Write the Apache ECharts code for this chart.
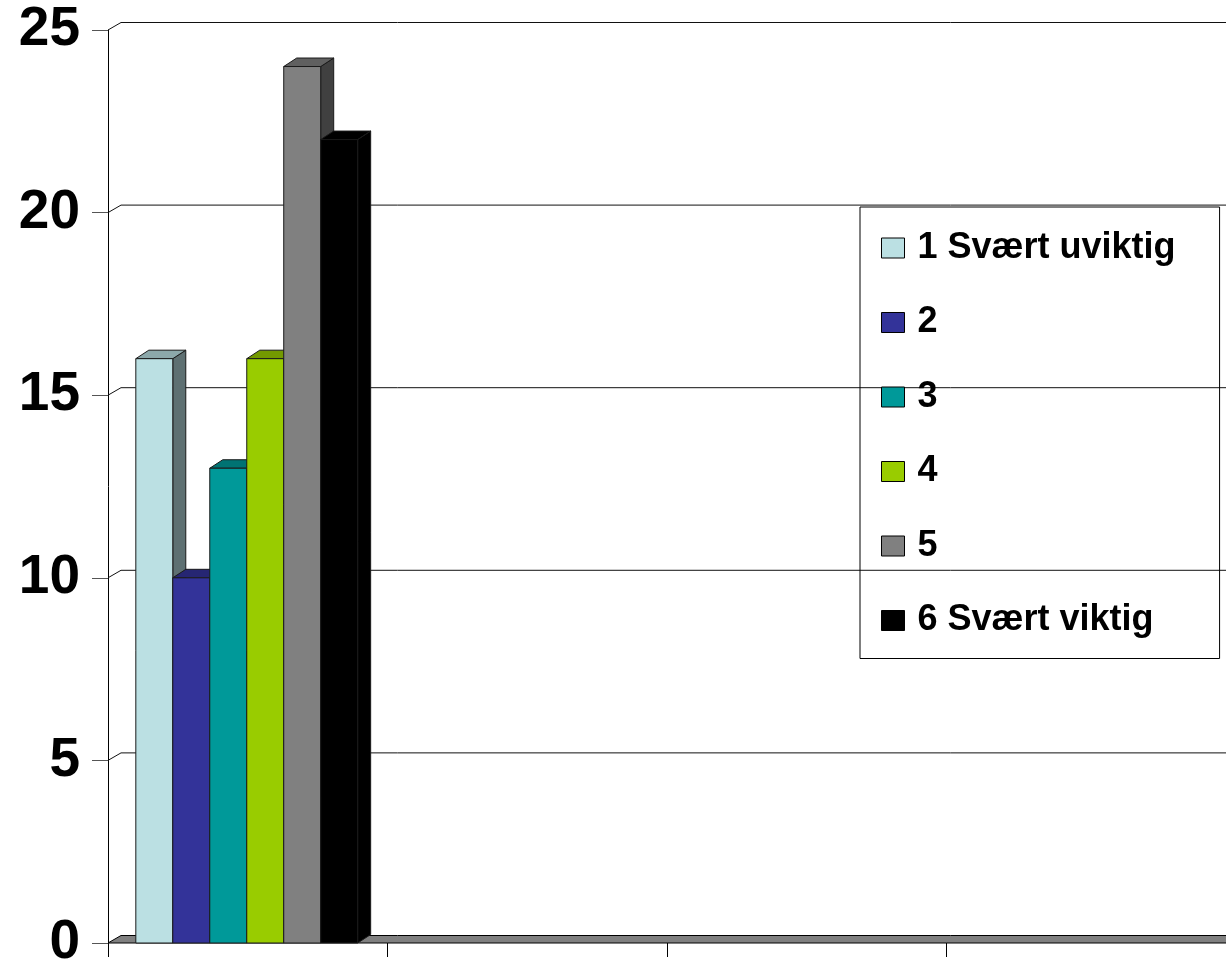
<!DOCTYPE html>
<html>
<head>
<meta charset="utf-8">
<script src="https://cdn.jsdelivr.net/npm/echarts@6/dist/echarts.min.js"></script>
<style>
html,body{margin:0;padding:0;background:#fff;}
#chart{width:1226px;height:963px;}
</style>
</head>
<body>
<div id="chart"></div>
<script>
const categories = ['1', '2', '3', '4'];
const seriesNames = ['1 Svært uviktig', '2', '3', '4', '5', '6 Svært viktig'];
const valuesS1 = [16, null, null, null];
const valuesS2 = [10, null, null, null];
const valuesS3 = [13, null, null, null];
const valuesS4 = [16, null, null, null];
const valuesS5 = [24, null, null, null];
const valuesS6 = [22, null, null, null];
const yTicks = [0, 5, 10, 15, 20, 25];

const allValues = [valuesS1, valuesS2, valuesS3, valuesS4, valuesS5, valuesS6];
const colors = ['#BBE0E3', '#333399', '#009999', '#99CC00', '#808080', '#000000'];
const FONT = "'Liberation Sans', Arial, sans-serif";
const WALL_DX = 13, WALL_DY = -7.5;
const BAR_DX = 13, BAR_DY = -8.5;

function shade(hex, f) {
  const n = parseInt(hex.slice(1), 16);
  const r = Math.round(((n >> 16) & 255) * f);
  const g = Math.round(((n >> 8) & 255) * f);
  const b = Math.round((n & 255) * f);
  return 'rgb(' + r + ',' + g + ',' + b + ')';
}

const chart = echarts.init(document.getElementById('chart'), null, {renderer: 'canvas'});

const wallSeries = {
  type: 'custom',
  name: 'wall',
  silent: true,
  data: yTicks.map(t => [0, t]),
  encode: {x: 0, y: 1},
  z: 1,
  renderItem: function (params, api) {
    const t = api.value(1);
    const p = api.coord([0, t]);
    const bw = api.size([1, 0])[0];
    const xl = p[0] - bw / 2;
    const xr = xl + bw * categories.length;
    const children = [];
    if (t === 0) {
      children.push({
        type: 'polygon',
        shape: {points: [[xl, p[1]], [xr, p[1]], [xr + WALL_DX, p[1] + WALL_DY], [xl + WALL_DX, p[1] + WALL_DY]]},
        style: {fill: '#808080', stroke: '#000', lineWidth: 1}
      });
    } else {
      children.push({
        type: 'polyline',
        shape: {points: [[xl, p[1]], [xl + WALL_DX, p[1] + WALL_DY], [xr + WALL_DX, p[1] + WALL_DY]]},
        style: {fill: null, stroke: '#111', lineWidth: 1}
      });
    }
    return {type: 'group', children: children};
  }
};

function barSeries(idx) {
  const vals = allValues[idx];
  const data = [];
  vals.forEach((v, ci) => { if (v !== null) data.push([ci, v]); });
  const col = colors[idx];
  return {
    type: 'custom',
    name: seriesNames[idx],
    data: data,
    encode: {x: 0, y: 1},
    z: 2,
    itemStyle: {color: col, borderColor: '#000', borderWidth: 1},
    renderItem: function (params, api) {
      const ci = api.value(0), v = api.value(1);
      const top = api.coord([ci, v]);
      const base = api.coord([ci, 0]);
      const bw = api.size([1, 0])[0];
      const w = bw * 0.1323;
      const x = top[0] - 3 * w - 1 + idx * w;
      const y = top[1], yb = base[1];
      const edge = '#1a1a1a';
      return {
        type: 'group',
        children: [
          {type: 'polygon', shape: {points: [[x + w, y], [x + w + BAR_DX, y + BAR_DY], [x + w + BAR_DX, yb + BAR_DY], [x + w, yb]]},
           style: {fill: shade(col, 0.5), stroke: edge, lineWidth: 1}},
          {type: 'polygon', shape: {points: [[x, y], [x + BAR_DX, y + BAR_DY], [x + w + BAR_DX, y + BAR_DY], [x + w, y]]},
           style: {fill: shade(col, 0.75), stroke: edge, lineWidth: 1}},
          {type: 'rect', shape: {x: x, y: y, width: w, height: yb - y},
           style: {fill: col, stroke: edge, lineWidth: 1}}
        ]
      };
    }
  };
}

const option = {
  backgroundColor: '#ffffff',
  animation: false,
  grid: {left: 108, right: 0, top: 30, bottom: 20, containLabel: false, outerBoundsMode: 'none'},
  legend: {
    data: seriesNames,
    orient: 'vertical',
    left: 860,
    top: 207,
    padding: [23, 44, 20, 21],
    itemGap: 38.5,
    itemWidth: 23,
    itemHeight: 20,
    icon: 'rect',
    borderColor: '#000',
    borderWidth: 1,
    backgroundColor: 'transparent',
    itemStyle: {borderColor: '#000', borderWidth: 1},
    textStyle: {fontFamily: FONT, fontWeight: 'bold', fontSize: 36, color: '#000', padding: [0, 0, 0, 8]}
  },
  xAxis: {
    type: 'category',
    data: categories,
    boundaryGap: true,
    axisLine: {show: false},
    axisTick: {show: true, length: 14, lineStyle: {color: '#000', width: 1}},
    axisLabel: {show: false},
    splitLine: {show: false}
  },
  yAxis: {
    type: 'value',
    min: 0,
    max: 25,
    interval: 5,
    axisLine: {show: true, lineStyle: {color: '#000', width: 1}},
    axisTick: {show: true, length: 16, lineStyle: {color: '#555', width: 1}},
    axisLabel: {fontFamily: FONT, fontWeight: 'bold', fontSize: 55, color: '#000', margin: 28},
    splitLine: {show: false}
  },
  series: [wallSeries].concat([0, 1, 2, 3, 4, 5].map(barSeries))
};
chart.setOption(option);
</script>
</body>
</html>
